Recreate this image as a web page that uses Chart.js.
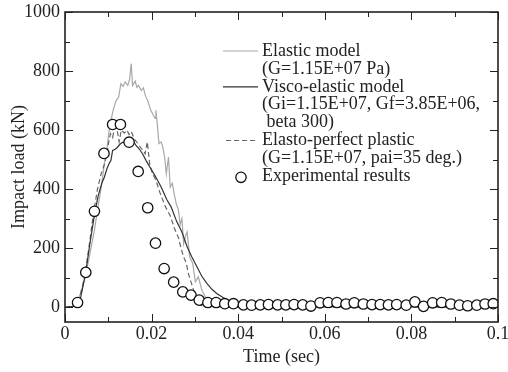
<!DOCTYPE html>
<html>
<head>
<meta charset="utf-8">
<title>Impact load</title>
<script src="https://cdn.jsdelivr.net/npm/chart.js@4"></script>
<style>
  html, body { margin: 0; padding: 0; background: #fff; }
  #wrap { width: 508px; height: 372px; }
</style>
</head>
<body>
<div id="wrap"><canvas id="graf"></canvas></div>
<script>
// ─── DATA ────────────────────────────────────────────────
const elasticX = [0, 0.0025, 0.0033, 0.0045, 0.0056, 0.0068, 0.0075, 0.0083, 0.0091, 0.0097, 0.0102, 0.0107, 0.0112, 0.0118,
  0.0124, 0.0129, 0.0134, 0.0139, 0.0145, 0.0149, 0.0153, 0.0156, 0.0162, 0.0166, 0.0170, 0.0176, 0.0181, 0.0186, 0.0191,
  0.0198, 0.0204, 0.0208, 0.0210, 0.0213, 0.0217, 0.0222, 0.0226, 0.0230, 0.0234, 0.0239, 0.0243, 0.0248, 0.0252, 0.0257,
  0.0262, 0.0266, 0.0270, 0.0274, 0.0278, 0.0282, 0.0288, 0.0295, 0.0301, 0.0308, 0.0316, 0.0324, 0.0335, 0.0345, 0.04,
  0.05, 0.06, 0.07, 0.08, 0.09, 0.1];
const elasticY = [0, 4, 35, 91, 170, 261, 330, 400, 486, 540, 599, 640, 672, 700,
  712, 757, 748, 763, 751, 771, 825, 751, 766, 745, 751, 734, 743, 715, 700,
  667, 650, 640, 667, 622, 554, 560, 542, 509, 452, 509, 407, 420, 385, 350,
  330, 280, 300, 215, 240, 255, 170, 148, 86, 103, 58, 35, 18, 2, 0,
  0, 2, 0, 0, 0, 0];

const viscoX = [0, 0.0032, 0.0040, 0.0048, 0.0058, 0.0069, 0.0077, 0.0085, 0.0091, 0.0097, 0.0103, 0.0106, 0.0110, 0.0116,
  0.0121, 0.0127, 0.0133, 0.0139, 0.0144, 0.0152, 0.0158, 0.0164, 0.0172, 0.0179, 0.0188, 0.0198, 0.0210, 0.0222, 0.0235,
  0.0245, 0.0258, 0.0270, 0.0282, 0.0293, 0.0305, 0.0316, 0.0328, 0.0340, 0.0351, 0.0366, 0.0380, 0.0400, 0.045, 0.05,
  0.06, 0.07, 0.08, 0.09, 0.1];
const viscoY = [0, 5, 60, 120, 220, 322, 380, 420, 441, 470, 490, 497, 531, 535,
  542, 552, 559, 556, 559, 571, 562, 548, 535, 520, 495, 470, 440, 407, 365,
  340, 290, 255, 205, 170, 136, 105, 80, 60, 46, 32, 20, 10, 5, 3,
  2, 2, 2, 2, 2];

const plasticX = [0, 0.0030, 0.0045, 0.0055, 0.0066, 0.0075, 0.0083, 0.0090, 0.0097, 0.0101, 0.0105, 0.0110, 0.0115, 0.0120,
  0.0125, 0.0130, 0.0137, 0.0143, 0.0148, 0.0153, 0.0160, 0.0168, 0.0175, 0.0181, 0.0185, 0.0190, 0.0196, 0.0203, 0.0210,
  0.0220, 0.0232, 0.0243, 0.0252, 0.0262, 0.0268, 0.0274, 0.0280, 0.0285, 0.0290, 0.0297, 0.0304, 0.0310, 0.0320, 0.04,
  0.05, 0.06, 0.07, 0.08, 0.09, 0.1];
const plasticY = [0, 8, 100, 200, 320, 400, 450, 480, 520, 560, 588, 575, 610, 605,
  560, 600, 590, 600, 585, 595, 570, 555, 540, 530, 520, 560, 480, 450, 430,
  385, 340, 310, 270, 235, 200, 170, 150, 114, 90, 58, 30, 10, 2, 0,
  0, 0, 0, 0, 0, 0];

const expX = [0.0029, 0.0048, 0.0068, 0.0090, 0.0110, 0.0128, 0.0148, 0.0169, 0.0191, 0.0209, 0.0229, 0.0251, 0.0272,
  0.0291, 0.0310, 0.0330, 0.0349, 0.0369, 0.0389, 0.0412, 0.0431, 0.0451, 0.0470, 0.0491, 0.0510, 0.0529, 0.0549,
  0.0568, 0.0589, 0.0608, 0.0628, 0.0649, 0.0668, 0.0689, 0.0709, 0.0728, 0.0747, 0.0766, 0.0788, 0.0808, 0.0828,
  0.0849, 0.0870, 0.0891, 0.0911, 0.0930, 0.0951, 0.0970, 0.0989];
const expY = [16, 118, 325, 521, 619, 619, 559, 460, 337, 217, 131, 85, 52,
  41, 24, 16, 16, 12, 12, 8, 7, 8, 9, 8, 8, 9, 8,
  4, 15, 16, 16, 11, 15, 11, 9, 9, 8, 9, 7, 18, 3,
  15, 16, 11, 7, 5, 7, 11, 12];

const xTicks = [0, 0.02, 0.04, 0.06, 0.08, 0.1];
const xTickLabels = ['0', '0.02', '0.04', '0.06', '0.08', '0.1'];
const xMinor = [0.01, 0.03, 0.05, 0.07, 0.09];
const yTicks = [0, 200, 400, 600, 800, 1000];
const yTickLabels = ['0', '200', '400', '600', '800', '1000'];
const yMinor = [100, 300, 500, 700, 900];

const legendText = [
  ['Elastic model', '(G=1.15E+07 Pa)'],
  ['Visco-elastic model', '(Gi=1.15E+07, Gf=3.85E+06,', ' beta 300)'],
  ['Elasto-perfect plastic', '(G=1.15E+07, pai=35 deg.)'],
  ['Experimental results']
];

// ─── STYLE ────────────────────────────────────────────────
const FONT = "'Liberation Serif', 'Times New Roman', serif";
const FSIZE = 18;
const INK = '#222';
const pts = (xs, ys) => xs.map((x, i) => ({ x, y: ys[i] }));

// ticks inward on all four sides + frame
const frameTicks = {
  id: 'frameTicks',
  afterDatasetsDraw(chart) {
    const { ctx, chartArea: a, scales: { x, y } } = chart;
    ctx.save();
    ctx.strokeStyle = INK;
    ctx.lineWidth = 1;
    ctx.beginPath();
    const vt = (v, len) => {
      const px = Math.round(x.getPixelForValue(v)) + 0.5;
      ctx.moveTo(px, a.bottom); ctx.lineTo(px, a.bottom - len);
      ctx.moveTo(px, a.top); ctx.lineTo(px, a.top + len);
    };
    const ht = (v, len) => {
      const py = Math.round(y.getPixelForValue(v)) + 0.5;
      ctx.moveTo(a.left, py); ctx.lineTo(a.left + len, py);
      ctx.moveTo(a.right, py); ctx.lineTo(a.right - len, py);
    };
    xTicks.forEach(v => vt(v, 8));
    xMinor.forEach(v => vt(v, 5));
    yTicks.forEach(v => ht(v, 8));
    yMinor.forEach(v => ht(v, 5));
    ctx.stroke();
    ctx.lineWidth = 1.6;
    ctx.strokeRect(a.left, a.top, a.right - a.left, a.bottom - a.top);
    ctx.restore();
  }
};

// multi-line legend in the upper right
const legendBox = {
  id: 'legendBox',
  afterDatasetsDraw(chart) {
    const { ctx, chartArea: a } = chart;
    const ds = chart.data.datasets;
    const textX = a.left + 197;
    const lineX0 = a.left + 158, lineX1 = a.left + 193;
    let rowY = 51;
    const step = 17.9;
    ctx.save();
    ctx.font = FSIZE + 'px ' + FONT;
    ctx.fillStyle = INK;
    ctx.textBaseline = 'middle';
    legendText.forEach((rows, i) => {
      const d = ds[i];
      ctx.beginPath();
      if (d.showLine === false) {
        ctx.lineWidth = 1.3;
        ctx.strokeStyle = d.pointBorderColor;
        ctx.fillStyle = '#fff';
        ctx.arc(a.left + 176, rowY + 1, d.pointRadius, 0, Math.PI * 2);
        ctx.fill(); ctx.stroke();
      } else {
        ctx.lineWidth = d.borderWidth;
        ctx.strokeStyle = d.borderColor;
        ctx.setLineDash(d.borderDash || []);
        ctx.moveTo(i === 2 ? lineX0 + 3 : lineX0, rowY);
        ctx.lineTo(lineX1, rowY);
        ctx.stroke();
        ctx.setLineDash([]);
      }
      ctx.fillStyle = INK;
      rows.forEach(t => {
        ctx.fillText(t, textX, rowY);
        rowY += step;
      });
    });
    ctx.restore();
  }
};

const tickFont = { family: FONT, size: FSIZE };

// ─── CHART ────────────────────────────────────────────────
new Chart(document.getElementById('graf'), {
  type: 'line',
  data: {
    datasets: [
      { label: 'Elastic model', data: pts(elasticX, elasticY), borderColor: '#a8a8a8', borderWidth: 1.2,
        pointRadius: 0, tension: 0, order: 3 },
      { label: 'Visco-elastic model', data: pts(viscoX, viscoY), borderColor: '#333', borderWidth: 1.2,
        pointRadius: 0, tension: 0, order: 1 },
      { label: 'Elasto-perfect plastic', data: pts(plasticX, plasticY), borderColor: '#666', borderWidth: 1.2,
        borderDash: [5, 3], pointRadius: 0, tension: 0, order: 2 },
      { label: 'Experimental results', type: 'scatter', data: pts(expX, expY), showLine: false,
        pointRadius: 5.2, pointBorderWidth: 1.3, pointBorderColor: '#111', pointBackgroundColor: '#fff', order: 0 }
    ]
  },
  options: {
    responsive: true,
    maintainAspectRatio: false,
    animation: false,
    layout: { padding: { top: 12, right: 10, left: 0, bottom: 0 } },
    plugins: { legend: { display: false }, tooltip: { enabled: false } },
    scales: {
      x: {
        type: 'linear', min: 0, max: 0.1,
        grid: { display: false, drawTicks: false, tickLength: 0 },
        border: { display: false },
        afterBuildTicks: s => { s.ticks = xTicks.map(v => ({ value: v })); },
        afterFit: s => { s.height = 50; s.paddingLeft = 0; s.paddingRight = 0; },
        ticks: { font: tickFont, color: INK, padding: 1, maxRotation: 0,
          callback: (v, i) => xTickLabels[i] },
        title: { display: true, text: 'Time (sec)', font: tickFont, color: INK,
          padding: { top: 0, bottom: 4 } }
      },
      y: {
        type: 'linear', min: -50, max: 1000,
        grid: { display: false, drawTicks: false, tickLength: 0 },
        border: { display: false },
        afterBuildTicks: s => { s.ticks = yTicks.map(v => ({ value: v })); },
        afterFit: s => { s.width = 65; s.paddingTop = 0; s.paddingBottom = 0; },
        ticks: { font: tickFont, color: INK, padding: 5,
          callback: (v, i) => yTickLabels[i] },
        title: { display: true, text: 'Impact load (kN)', font: tickFont, color: INK,
          padding: { top: 8, bottom: 0 } }
      }
    }
  },
  plugins: [frameTicks, legendBox]
});
</script>
</body>
</html>
